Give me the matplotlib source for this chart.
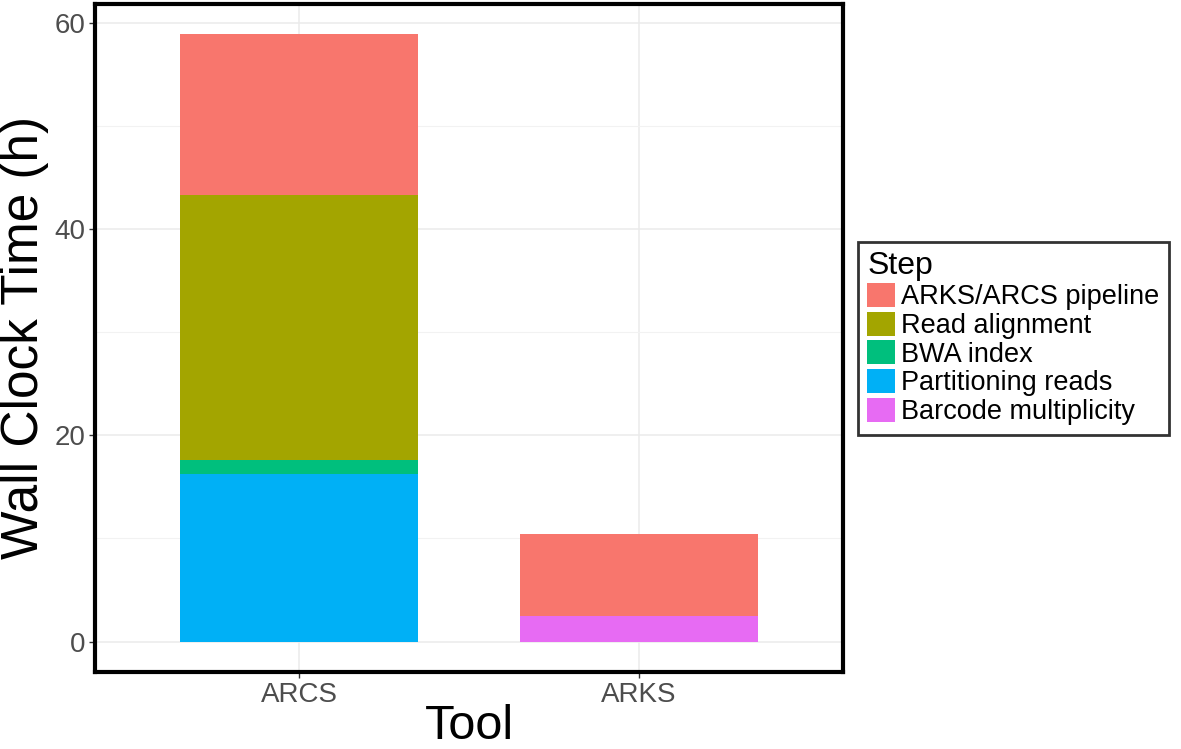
import matplotlib
matplotlib.use("Agg")
import matplotlib.pyplot as plt
import numpy as np
from matplotlib.patches import Patch

plt.rcParams['font.family'] = ['Liberation Sans', 'DejaVu Sans']

tools = ["ARCS", "ARKS"]
steps = ["ARKS/ARCS pipeline", "Read alignment", "BWA index",
         "Partitioning reads", "Barcode multiplicity"]
colors = ["#F8766D", "#A3A500", "#00BF7D", "#00B0F6", "#E76BF3"]

# hours per step, per tool (ARCS, ARKS)
pipeline = [15.55, 8.0]
read_align = [25.7, 0.0]
bwa_index = [1.35, 0.0]
partitioning = [16.3, 0.0]
barcode_mult = [0.0, 2.48]

fig = plt.figure(figsize=(11.81, 7.49), dpi=100)
ax = fig.add_axes([0.0804, 0.1028, 0.6334, 0.8919])

x = np.arange(1, len(tools) + 1)
# stack from bottom to top
stack = [(barcode_mult, colors[4]), (partitioning, colors[3]),
         (bwa_index, colors[2]), (read_align, colors[1]), (pipeline, colors[0])]
bottom = np.zeros(len(tools))
for vals, c in stack:
    vals = np.array(vals)
    ax.bar(x, vals, width=0.7, bottom=bottom, color=c, zorder=3)
    bottom += vals

ax.set_xlim(0.4, 2.6)
ax.set_ylim(-2.95, 61.85)
ax.set_xticks(x)
ax.set_xticklabels(tools)
ax.set_yticks([0, 20, 40, 60])
ax.set_yticks([10, 30, 50], minor=True)
ax.grid(True, which='major', color='#EBEBEB', lw=1.1, zorder=0)
ax.grid(True, which='minor', axis='y', color='#F2F2F2', lw=0.8, zorder=0)
ax.tick_params(axis='both', labelsize=20, labelcolor='#4D4D4D', color='#333333',
               length=4, width=1, pad=3)
ax.tick_params(axis='y', which='minor', length=0)
for s in ax.spines.values():
    s.set_linewidth(3)
    s.set_color('black')

ax.set_ylabel("Wall Clock Time (h)", fontsize=37)
ax.yaxis.set_label_coords(-0.062, 0.5)
ax.set_xlabel("Tool", fontsize=35, va='baseline')
ax.xaxis.set_label_coords(0.5, -0.101)

handles = [Patch(facecolor=c, edgecolor='none') for c in colors]
leg = fig.legend(handles, steps, title="Step", loc='upper left',
                 bbox_to_anchor=(0.7265, 0.677), borderaxespad=0,
                 fontsize=19.5, title_fontsize=23,
                 frameon=True, fancybox=False, handlelength=1.0, handleheight=1.0,
                 handletextpad=0.25, labelspacing=0.05, borderpad=0.35)
leg._legend_box.align = "left"
leg.get_frame().set_edgecolor('black')
leg.get_frame().set_linewidth(2.0)

fig.savefig("out.png", dpi=100)
